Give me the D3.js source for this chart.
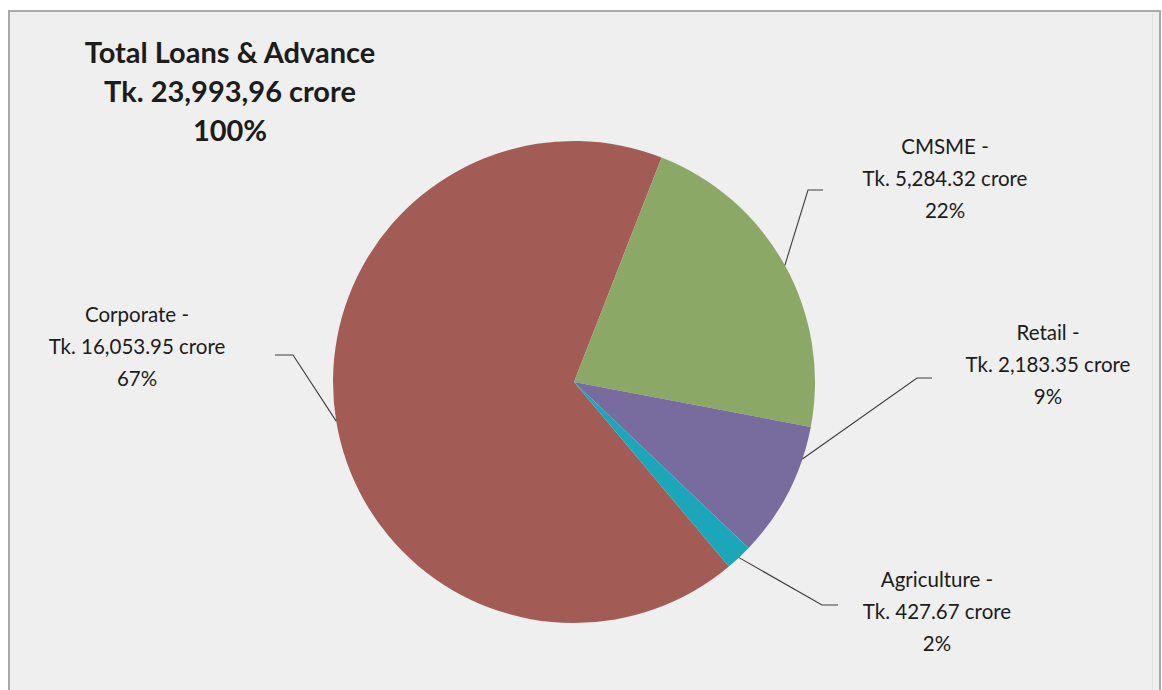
<!DOCTYPE html>
<html>
<head>
<meta charset="utf-8">
<script src="https://cdn.jsdelivr.net/npm/d3@7/dist/d3.min.js"></script>
<style>
  html, body { margin: 0; padding: 0; background: #ffffff; }
  svg { display: block; }
  text { font-family: Lato, "Open Sans", sans-serif; fill: #1c1c1c; }
</style>
</head>
<body>
<svg id="chart" width="1162" height="690"></svg>
<script>
// Loan portfolio by segment (Tk. crore)
const categories = ["Corporate", "CMSME", "Retail", "Agriculture"];
const amounts = [16053.95, 5284.32, 2183.35, 427.67];
const colors = ["#a35b55", "#8ba866", "#786c9f", "#1ba6ba"];
const titleLines = ["Total Loans & Advance", "Tk. 23,993,96 crore", "100%"];

// Layout
const W = 1162, H = 690;
const center = { x: 574, y: 382 };
const radius = 241;
const startDeg = 140;
const labelLayout = {
  Corporate:   { x: 137,  y: 322, elbow: [293, 355], tail: [275, 355], frac: 0.5 },
  CMSME:       { x: 945,  y: 154, elbow: [808, 190], tail: [823, 190], frac: 0.5 },
  Retail:      { x: 1048, y: 340, elbow: [917, 378], tail: [932, 378], frac: 0.24 },
  Agriculture: { x: 937,  y: 587, elbow: [822, 605], tail: [838, 605], frac: 0.5 }
};
const lineGap = 32;

const svg = d3.select("#chart");

// Chart area panel
svg.append("rect")
  .attr("x", 9).attr("y", 11)
  .attr("width", 1151).attr("height", H + 20)
  .attr("fill", "#efefef")
  .attr("stroke", "#a9a9a9")
  .attr("stroke-width", 2);
svg.append("line")
  .attr("x1", 1152.5).attr("x2", 1152.5)
  .attr("y1", 13).attr("y2", H)
  .attr("stroke", "#e2e2e2").attr("stroke-width", 1);

const data = categories.map((c, i) => ({ name: c, value: amounts[i], color: colors[i] }));
const total = d3.sum(amounts);

const rad = d => d * Math.PI / 180;
const pie = d3.pie()
  .sort(null)
  .value(d => d.value)
  .startAngle(rad(startDeg))
  .endAngle(rad(startDeg + 360));

const arc = d3.arc().innerRadius(0).outerRadius(radius);
const arcs = pie(data);

const g = svg.append("g").attr("transform", `translate(${center.x},${center.y})`);
g.selectAll("path.slice")
  .data(arcs)
  .join("path")
  .attr("class", "slice")
  .attr("d", arc)
  .attr("fill", d => d.data.color);

// Leader lines from slice edge to each label
const fmtAmt = d3.format(",.2f");
const fmtPct = d3.format(".0%");

arcs.forEach(a => {
  const L = labelLayout[a.data.name];
  const ang = a.startAngle + (a.endAngle - a.startAngle) * L.frac;
  const px = center.x + radius * Math.sin(ang);
  const py = center.y - radius * Math.cos(ang);
  svg.append("polyline")
    .attr("points", [[px, py], L.elbow, L.tail].map(p => p.join(",")).join(" "))
    .attr("fill", "none")
    .attr("stroke", "#3c3c3c")
    .attr("stroke-width", 1.1);

  const lines = [
    a.data.name + " -",
    "Tk. " + fmtAmt(a.data.value) + " crore",
    fmtPct(a.data.value / total)
  ];
  svg.append("text")
    .attr("text-anchor", "middle")
    .attr("font-size", 20.5)
    .selectAll("tspan")
    .data(lines)
    .join("tspan")
    .attr("x", L.x)
    .attr("y", (d, i) => L.y + i * lineGap)
    .text(d => d);
});

// Title block
svg.append("text")
  .attr("text-anchor", "middle")
  .attr("font-size", 29)
  .attr("font-weight", "bold")
  .selectAll("tspan")
  .data(titleLines)
  .join("tspan")
  .attr("x", 230)
  .attr("y", (d, i) => 63 + i * 39)
  .text(d => d);
</script>
</body>
</html>
